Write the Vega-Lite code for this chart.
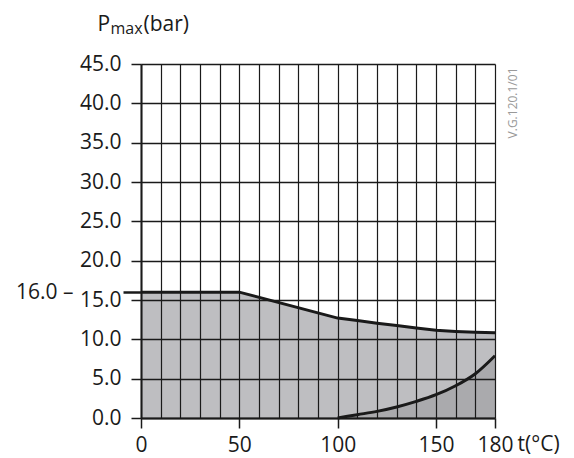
{
  "$schema": "https://vega.github.io/schema/vega-lite/v6.json",
  "width": 354,
  "height": 354,
  "autosize": {"type": "none"},
  "padding": {"left": 141, "top": 64, "right": 79, "bottom": 40},
  "config": {"font": "Open Sans", "view": {"stroke": null}},
  "data": {
    "values": [
      {"s": "upper", "t": 0, "p": 16},
      {"s": "upper", "t": 50, "p": 16},
      {"s": "upper", "t": 100, "p": 12.7},
      {"s": "upper", "t": 110, "p": 12.4},
      {"s": "upper", "t": 120, "p": 12.05},
      {"s": "upper", "t": 130, "p": 11.75},
      {"s": "upper", "t": 140, "p": 11.45},
      {"s": "upper", "t": 150, "p": 11.15},
      {"s": "upper", "t": 160, "p": 11.0},
      {"s": "upper", "t": 170, "p": 10.9},
      {"s": "upper", "t": 180, "p": 10.85},
      {"s": "lower", "t": 100, "p": 0},
      {"s": "lower", "t": 110, "p": 0.42},
      {"s": "lower", "t": 120, "p": 0.84},
      {"s": "lower", "t": 130, "p": 1.4},
      {"s": "lower", "t": 140, "p": 2.11},
      {"s": "lower", "t": 150, "p": 2.96},
      {"s": "lower", "t": 160, "p": 4.1},
      {"s": "lower", "t": 170, "p": 5.63},
      {"s": "lower", "t": 180, "p": 7.92}
    ]
  },
  "layer": [
    {
      "transform": [{"filter": "datum.s == 'upper'"}],
      "mark": {"type": "area", "color": "#bebec1", "opacity": 1, "interpolate": "linear"},
      "encoding": {
        "x": {
          "field": "t", "type": "quantitative",
          "scale": {"domain": [0, 180], "nice": false, "zero": false},
          "axis": {
            "orient": "bottom",
            "values": [0, 10, 20, 30, 40, 50, 60, 70, 80, 90, 100, 110, 120, 130, 140, 150, 160, 170, 180],
            "grid": true, "gridColor": "#1a1a1a", "gridWidth": 1.2,
            "labels": false, "ticks": false, "domain": false, "zindex": 1,
            "title": "(bar)", "titleX": 2, "titleY": -388, "titleAlign": "left",
            "titleBaseline": "alphabetic", "titleFontSize": 21, "titleFontWeight": "normal",
            "titleColor": "#1a1a1a"
          }
        },
        "y": {
          "field": "p", "type": "quantitative",
          "scale": {"domain": [0, 45], "nice": false},
          "axis": {
            "orient": "left",
            "values": [0, 5, 10, 15, 20, 25, 30, 35, 40, 45],
            "format": ".1f",
            "grid": true, "gridColor": "#1a1a1a", "gridWidth": 1.5,
            "tickSize": 10, "tickWidth": 1.5, "tickColor": "#1a1a1a",
            "domainColor": "#1a1a1a", "domainWidth": 2,
            "labelFontSize": 21, "labelPadding": 10, "labelColor": "#1a1a1a",
            "zindex": 1,
            "title": "P", "titleAngle": 0, "titleX": -44, "titleY": -34,
            "titleAlign": "left", "titleBaseline": "alphabetic",
            "titleFontSize": 21, "titleFontWeight": "normal", "titleColor": "#1a1a1a"
          }
        }
      }
    },
    {
      "transform": [{"filter": "datum.s == 'lower'"}],
      "mark": {"type": "area", "color": "#aaaaad", "opacity": 1, "interpolate": "monotone"},
      "encoding": {
        "x": {"field": "t", "type": "quantitative", "axis": null},
        "y": {"field": "p", "type": "quantitative", "axis": null}
      }
    },
    {
      "transform": [{"filter": "datum.s == 'upper'"}],
      "mark": {"type": "line", "color": "#1a1a1a", "strokeWidth": 3, "interpolate": "linear"},
      "encoding": {
        "x": {
          "field": "t", "type": "quantitative",
          "axis": {
            "orient": "bottom",
            "values": [0, 50, 100, 150, 180],
            "grid": false, "tickSize": 10, "tickWidth": 1.5, "tickColor": "#1a1a1a",
            "domain": true, "domainWidth": 2, "domainColor": "#1a1a1a",
            "labelFontSize": 21, "labelPadding": 6, "labelColor": "#1a1a1a",
            "labelFlush": false, "labelOverlap": false, "zindex": 1,
            "title": "t(°C)", "titleX": 376, "titleY": 32, "titleAlign": "left",
            "titleBaseline": "alphabetic", "titleFontSize": 21, "titleFontWeight": "normal",
            "titleColor": "#1a1a1a"
          }
        },
        "y": {
          "field": "p", "type": "quantitative",
          "axis": {
            "orient": "left",
            "values": [16],
            "grid": false, "domain": false,
            "tickSize": 18, "tickWidth": 2.5, "tickColor": "#1a1a1a",
            "labelExpr": "'16.0 –'", "labelFontSize": 21, "labelPadding": 50,
            "labelColor": "#1a1a1a", "zindex": 1,
            "title": "max", "titleAngle": 0, "titleX": -31, "titleY": -31,
            "titleAlign": "left", "titleBaseline": "alphabetic",
            "titleFontSize": 16, "titleFontWeight": "normal", "titleColor": "#1a1a1a"
          }
        }
      }
    },
    {
      "transform": [{"filter": "datum.s == 'lower'"}],
      "mark": {"type": "line", "color": "#1a1a1a", "strokeWidth": 3, "interpolate": "monotone"},
      "encoding": {
        "x": {"field": "t", "type": "quantitative", "axis": null},
        "y": {
          "field": "p", "type": "quantitative",
          "axis": {
            "orient": "right",
            "values": [],
            "grid": false, "domain": false, "ticks": false, "labels": false,
            "title": "V.G.120.1/01", "titleAngle": -90, "titleX": 17, "titleY": 3,
            "titleAlign": "right", "titleBaseline": "middle",
            "titleFontSize": 12, "titleFontWeight": "normal", "titleColor": "#999999"
          }
        }
      }
    }
  ],
  "resolve": {"axis": {"x": "independent", "y": "independent"}}
}
